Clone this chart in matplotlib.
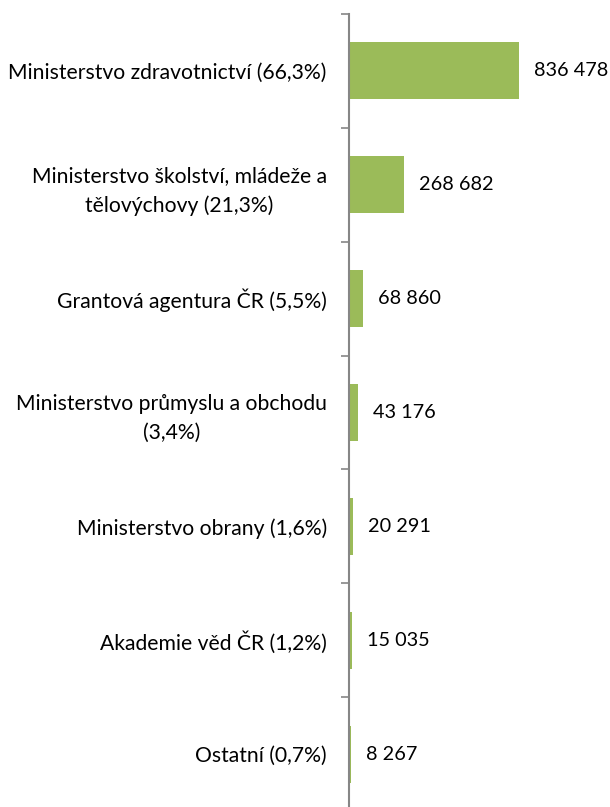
import matplotlib.pyplot as plt

plt.rcParams['font.family'] = ['Lato', 'DejaVu Sans']

categories = ['Ministerstvo zdravotnictví (66,3%)',
              'Ministerstvo školství, mládeže a\ntělovýchovy (21,3%)',
              'Grantová agentura ČR (5,5%)',
              'Ministerstvo průmyslu a obchodu\n(3,4%)',
              'Ministerstvo obrany (1,6%)',
              'Akademie věd ČR (1,2%)',
              'Ostatní (0,7%)']
values = [836478, 268682, 68860, 43176, 20291, 15035, 8267]
value_labels = ['836 478', '268 682', '68 860', '43 176', '20 291', '15 035', '8 267']

fig = plt.figure(figsize=(6.10, 8.07), dpi=100)
ax = fig.add_axes([349 / 610, 1 - 811 / 807, 203.2 / 610, 797 / 807])

pos = list(range(len(categories)))
ax.barh(pos, values, height=0.5, color='#9BBB59')
ax.set_ylim(len(categories) - 0.5, -0.5)
ax.set_xlim(0, 1000000)

for p, v, lab in zip(pos, values, value_labels):
    ax.annotate(lab, (v, p), xytext=(11, 0), textcoords='offset points',
                va='center', ha='left', fontsize=14.3, color='black')

# category ticks sit between the bars
ax.set_yticks([p - 0.5 for p in pos] + [len(categories) - 0.5])
ax.set_yticklabels([])
ax.set_yticks(pos, minor=True)
ax.set_yticklabels(categories, minor=True, fontsize=15.2, multialignment='center',
                   linespacing=1.55)
ax.tick_params(axis='y', which='major', length=6, width=1.2, color='#868686', direction='out')
ax.tick_params(axis='y', which='minor', length=0, pad=16)

ax.set_xticks([])
for s in ['top', 'right', 'bottom']:
    ax.spines[s].set_visible(False)
ax.spines['left'].set_color('#868686')
ax.spines['left'].set_linewidth(1.5)

fig.savefig('out.png', dpi=100)
